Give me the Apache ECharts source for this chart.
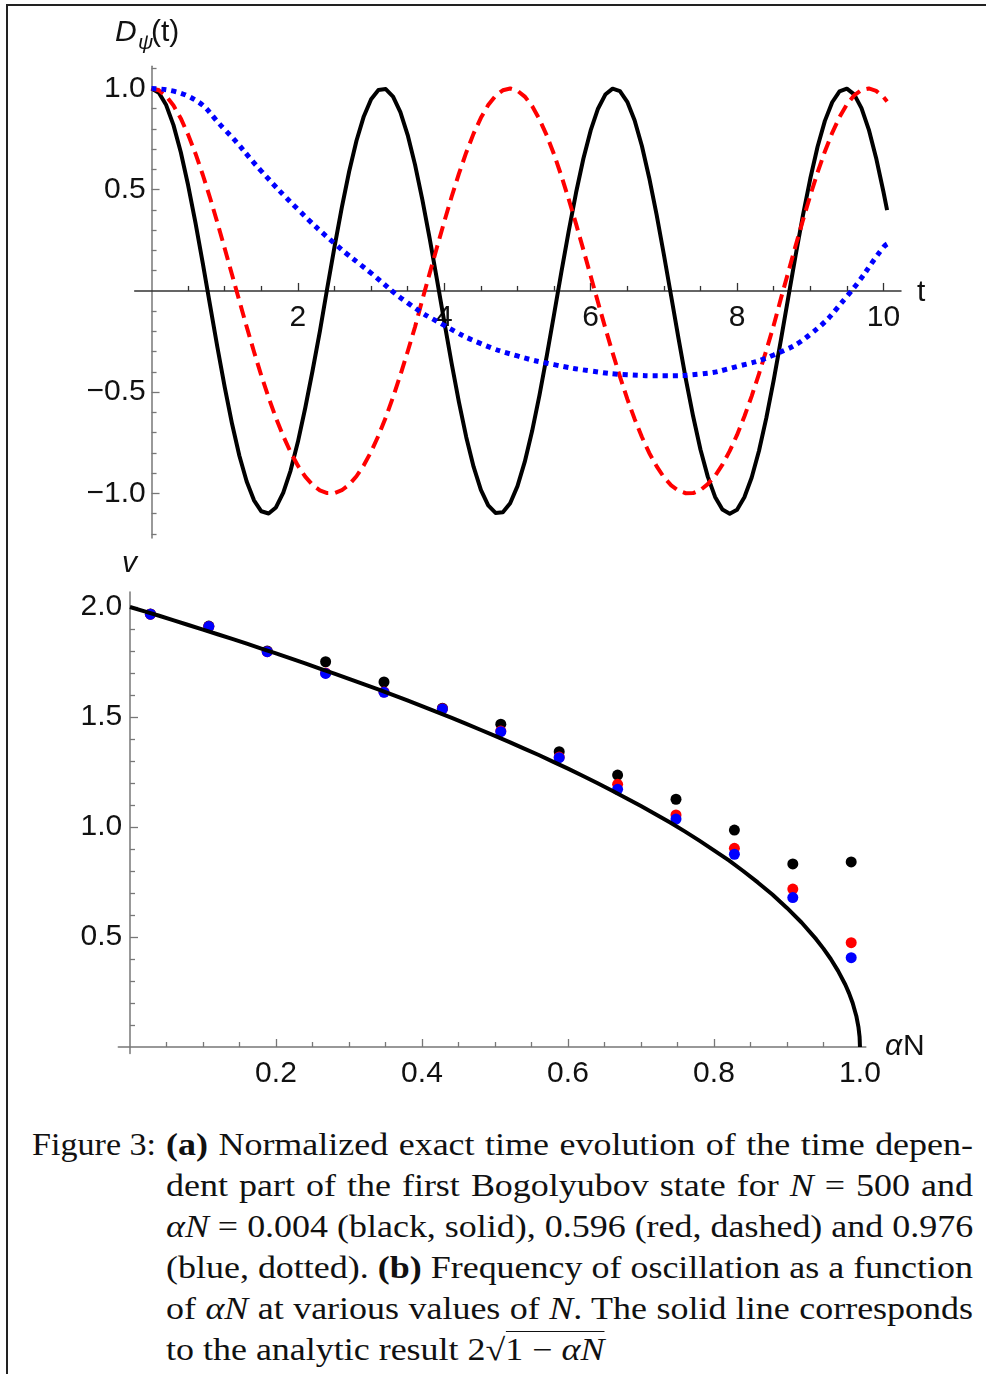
<!DOCTYPE html>
<html>
<head>
<meta charset="utf-8">
<script src="https://cdn.jsdelivr.net/npm/echarts@6/dist/echarts.min.js"></script>
<style>
  html, body { margin: 0; padding: 0; background: #fff; }
  #page { position: relative; width: 986px; height: 1374px; overflow: hidden; }
  #frame { position: absolute; left: 6px; top: 4px; width: 990px; height: 1380px;
           border-left: 2px solid #222; border-top: 2px solid #222; }
  #main { position: absolute; left: 0; top: 0; width: 986px; height: 1100px; }
  #cap { position: absolute; left: 0; top: 1124px; width: 986px;
         font-family: 'Liberation Serif', serif; font-size: 31px; line-height: 41px; color: #111; }
  #cap .fig { position: absolute; left: 32px; top: 0; white-space: nowrap;
              transform: scaleX(1.1); transform-origin: 0 0; }
  #cap .body { position: absolute; left: 166px; top: 0; width: 695.7px;
               transform: scaleX(1.16); transform-origin: 0 0; }
  #cap .ln { text-align: justify; text-align-last: justify; white-space: nowrap; }
  #cap .ln.last { text-align-last: left; }
  .rt { border-top: 1.5px solid #111; }
</style>
</head>
<body>
<div id="page">
  <div id="frame"></div>
  <div id="main"></div>
  <div id="cap">
    <div class="fig">Figure 3:</div>
    <div class="body">
      <div class="ln"><b>(a)</b> Normalized exact time evolution of the time depen-</div>
      <div class="ln">dent part of the first Bogolyubov state for <i>N</i> = 500 and</div>
      <div class="ln"><i>αN</i> = 0.004 (black, solid), 0.596 (red, dashed) and 0.976</div>
      <div class="ln">(blue, dotted). <b>(b)</b> Frequency of oscillation as a function</div>
      <div class="ln">of <i>αN</i> at various values of <i>N</i>. The solid line corresponds</div>
      <div class="ln last">to the analytic result 2√<span class="rt">1 − <i>αN</i></span></div>
    </div>
  </div>
</div>
<script>
// (a) D_psi(t), every 0.1 in t (last point t = 10.05)
const tA = [];
for (let k = 0; k <= 100; k++) tA.push(k / 10);
tA.push(10.05);
const dBlack = [
  1.000, 0.979, 0.918, 0.819, 0.685, 0.522, 0.338, 0.137, -0.071, -0.278,
  -0.475, -0.656, -0.814, -0.941, -1.034, -1.088, -1.099, -1.069, -0.996, -0.887,
  -0.745, -0.578, -0.394, -0.200, 0.012, 0.218, 0.413, 0.590, 0.742, 0.862,
  0.947, 0.992, 0.997, 0.960, 0.883, 0.770, 0.624, 0.451, 0.260, 0.056,
  -0.153, -0.357, -0.549, -0.722, -0.868, -0.982, -1.059, -1.096, -1.093, -1.048,
  -0.964, -0.843, -0.692, -0.516, -0.321, -0.115, 0.094, 0.296, 0.485, 0.653,
  0.793, 0.900, 0.970, 0.999, 0.987, 0.934, 0.843, 0.716, 0.558, 0.378,
  0.180, -0.026, -0.234, -0.435, -0.619, -0.783, -0.917, -1.017, -1.079, -1.100,
  -1.080, -1.019, -0.921, -0.789, -0.627, -0.441, -0.240, -0.032, 0.175, 0.373,
  0.554, 0.712, 0.840, 0.932, 0.986, 0.999, 0.971, 0.903, 0.797, 0.657,
  0.490, 0.399];
const dRed = [
  1.000, 0.991, 0.962, 0.916, 0.852, 0.772, 0.679, 0.574, 0.459, 0.337,
  0.210, 0.080, -0.049, -0.177, -0.300, -0.418, -0.527, -0.627, -0.717, -0.796,
  -0.863, -0.917, -0.958, -0.985, -0.998, -0.998, -0.984, -0.956, -0.915, -0.861,
  -0.794, -0.715, -0.625, -0.524, -0.415, -0.299, -0.178, -0.043, 0.087, 0.216,
  0.343, 0.465, 0.579, 0.684, 0.777, 0.855, 0.918, 0.964, 0.991, 1.000,
  0.989, 0.960, 0.913, 0.848, 0.768, 0.674, 0.568, 0.453, 0.331, 0.204,
  0.074, -0.056, -0.183, -0.306, -0.423, -0.533, -0.632, -0.721, -0.800, -0.865,
  -0.920, -0.960, -0.986, -0.999, -0.998, -0.983, -0.954, -0.913, -0.858, -0.790,
  -0.711, -0.620, -0.519, -0.409, -0.293, -0.171, -0.036, 0.093, 0.223, 0.349,
  0.471, 0.585, 0.689, 0.781, 0.859, 0.921, 0.966, 0.992, 1.000, 0.988,
  0.958, 0.936];
const tBlue = [0, 0.5, 1, 1.5, 2, 2.5, 3, 3.5, 4, 4.5, 5, 5.5, 6, 6.5, 7, 7.5, 8, 8.5, 9, 9.5, 10, 10.05];
const dBlue = [1.0, 0.962, 0.797, 0.592, 0.403, 0.235, 0.088, -0.059, -0.170, -0.260, -0.321, -0.364, -0.395,
               -0.414, -0.419, -0.410, -0.373, -0.316, -0.214, -0.027, 0.216, 0.232];

// (b) frequency vs alpha N
const aN = [0.028, 0.108, 0.188, 0.268, 0.348, 0.428, 0.508, 0.588, 0.668, 0.748, 0.828, 0.908, 0.988];
const nuBlack = [1.968, 1.913, 1.800, 1.751, 1.659, 1.540, 1.467, 1.342, 1.236, 1.126, 0.986, 0.832, 0.841];
const nuRed   = [1.967, 1.911, 1.797, 1.700, 1.614, 1.537, 1.436, 1.318, 1.194, 1.055, 0.903, 0.718, 0.474];
const nuBlue  = [1.967, 1.911, 1.797, 1.698, 1.612, 1.536, 1.433, 1.315, 1.171, 1.036, 0.876, 0.679, 0.406];
const aLine = [0, 0.02, 0.04, 0.06, 0.08, 0.1, 0.12, 0.14, 0.16, 0.18, 0.2, 0.22, 0.24, 0.26, 0.28, 0.3,
               0.32, 0.34, 0.36, 0.38, 0.4, 0.42, 0.44, 0.46, 0.48, 0.5, 0.52, 0.54, 0.56, 0.58, 0.6,
               0.62, 0.64, 0.66, 0.68, 0.7, 0.72, 0.74, 0.76, 0.78, 0.8, 0.82, 0.84, 0.86, 0.88, 0.9,
               0.92, 0.94, 0.95, 0.96, 0.97, 0.98, 0.985, 0.99, 0.995, 0.998, 0.9995, 1.0];
const nuLine = [2.000, 1.980, 1.960, 1.939, 1.918, 1.897, 1.876, 1.855, 1.833, 1.811, 1.789, 1.766, 1.744,
                1.720, 1.697, 1.673, 1.649, 1.625, 1.600, 1.575, 1.549, 1.523, 1.497, 1.470, 1.442, 1.414,
                1.386, 1.356, 1.327, 1.296, 1.265, 1.233, 1.200, 1.166, 1.131, 1.095, 1.058, 1.020, 0.980,
                0.938, 0.894, 0.849, 0.800, 0.748, 0.693, 0.632, 0.566, 0.490, 0.447, 0.400, 0.346, 0.283,
                0.245, 0.200, 0.141, 0.089, 0.045, 0.0];

// ticks
const topXMajor = [2, 4, 6, 8, 10];
const topXMinor = [0.5, 1, 1.5, 2.5, 3, 3.5, 4.5, 5, 5.5, 6.5, 7, 7.5, 8.5, 9, 9.5];
const topYMajor = [-1, -0.5, 0.5, 1];
const topYMinor = [-1.2, -1.1, -0.9, -0.8, -0.7, -0.6, -0.4, -0.3, -0.2, -0.1, 0.1, 0.2, 0.3, 0.4, 0.6, 0.7, 0.8, 0.9, 1.1];
const botXMajor = [0.2, 0.4, 0.6, 0.8, 1.0];
const botXMinor = [0.05, 0.1, 0.15, 0.25, 0.3, 0.35, 0.45, 0.5, 0.55, 0.65, 0.7, 0.75, 0.85, 0.9, 0.95];
const botYMajor = [0.5, 1.0, 1.5, 2.0];
const botYMinor = [0.1, 0.2, 0.3, 0.4, 0.6, 0.7, 0.8, 0.9, 1.1, 1.2, 1.3, 1.4, 1.6, 1.7, 1.8, 1.9];

const FONT = 'Liberation Sans';
const fmt1 = v => (v < 0 ? '\u2212' : '') + Math.abs(v).toFixed(1);
const fmtInt = v => String(Math.round(v));

function axis(grid, min, max, pos, ticks, len, color, labels, formatter, margin, showLine) {
  return {
    type: 'value', gridIndex: grid, min: min, max: max, position: pos,
    axisLine: { show: showLine, onZero: true, lineStyle: { color: color, width: 1.5 } },
    axisTick: { show: true, inside: true, length: len, customValues: ticks, lineStyle: { color: color, width: 1.3 } },
    axisLabel: labels ? { show: true, customValues: labels, formatter: formatter, margin: margin,
                          fontFamily: FONT, fontSize: 30, color: '#111' } : { show: false },
    splitLine: { show: false }
  };
}

const chart = echarts.init(document.getElementById('main'), null, { renderer: 'canvas' });

const txt = (x, y, s, size, italic) => ({
  type: 'text', x: x, y: y, silent: true,
  style: { text: s, fontFamily: FONT, fontSize: size, fontStyle: italic ? 'italic' : 'normal',
           fill: '#111', verticalAlign: 'middle', align: 'left' }
});

chart.setOption({
  animation: false,
  grid: [
    { left: 134.7, right: 85, top: 66.2, height: 471.8 },
    { left: 118.3, right: 120.2, top: 592, height: 461.6 }
  ],
  xAxis: [
    axis(0, -0.23, 10.24, 'bottom', topXMajor, 8, '#333', topXMajor, fmtInt, -235, true),
    axis(0, -0.23, 10.24, 'bottom', topXMinor, 5, '#333', null, null, 0, false),
    axis(1, -0.016, 1.008, 'bottom', botXMajor, 8, '#777', botXMajor, fmt1, 5, true),
    axis(1, -0.016, 1.008, 'bottom', botXMinor, 5, '#777', null, null, 0, false)
  ],
  yAxis: [
    axis(0, -1.22, 1.11, 'left', topYMajor, 8, '#777', topYMajor, fmt1, -11, true),
    axis(0, -1.22, 1.11, 'left', topYMinor, 5, '#777', null, null, 0, false),
    axis(1, -0.03, 2.068, 'left', botYMajor, 8, '#777', botYMajor, fmt1, -4, true),
    axis(1, -0.03, 2.068, 'left', botYMinor, 5, '#777', null, null, 0, false)
  ],
  series: [
    { type: 'line', xAxisIndex: 0, yAxisIndex: 0, showSymbol: false,
      data: tA.map((t, i) => [t, dBlack[i]]),
      lineStyle: { color: '#000', width: 4, join: 'round' } },
    { type: 'line', xAxisIndex: 0, yAxisIndex: 0, showSymbol: false,
      data: tA.map((t, i) => [t, dRed[i]]),
      lineStyle: { color: '#f00', width: 4, type: [13, 7], join: 'round' } },
    { type: 'line', xAxisIndex: 0, yAxisIndex: 0, showSymbol: false, smooth: true,
      data: tBlue.map((t, i) => [t, dBlue[i]]),
      lineStyle: { color: '#00f', width: 5, type: [5, 5] } },
    { type: 'line', xAxisIndex: 2, yAxisIndex: 2, showSymbol: false,
      data: aLine.map((a, i) => [a, nuLine[i]]),
      lineStyle: { color: '#000', width: 4, join: 'round' } },
    { type: 'scatter', xAxisIndex: 2, yAxisIndex: 2, symbolSize: 11,
      data: aN.map((a, i) => [a, nuBlack[i]]), itemStyle: { color: '#000', opacity: 1 } },
    { type: 'scatter', xAxisIndex: 2, yAxisIndex: 2, symbolSize: 11,
      data: aN.map((a, i) => [a, nuRed[i]]), itemStyle: { color: '#f00', opacity: 1 } },
    { type: 'scatter', xAxisIndex: 2, yAxisIndex: 2, symbolSize: 11,
      data: aN.map((a, i) => [a, nuBlue[i]]), itemStyle: { color: '#00f', opacity: 1 } }
  ],
  graphic: [
    txt(115, 33, 'D', 30, true),
    txt(138, 43, 'ψ', 21, true),
    txt(151, 33, '(t)', 30, false),
    txt(917, 293, 't', 30, false),
    txt(122, 564, 'v', 30, true),
    txt(885, 1047, 'α', 30, true),
    txt(903, 1047, 'N', 30, false)
  ]
});
</script>
</body>
</html>
